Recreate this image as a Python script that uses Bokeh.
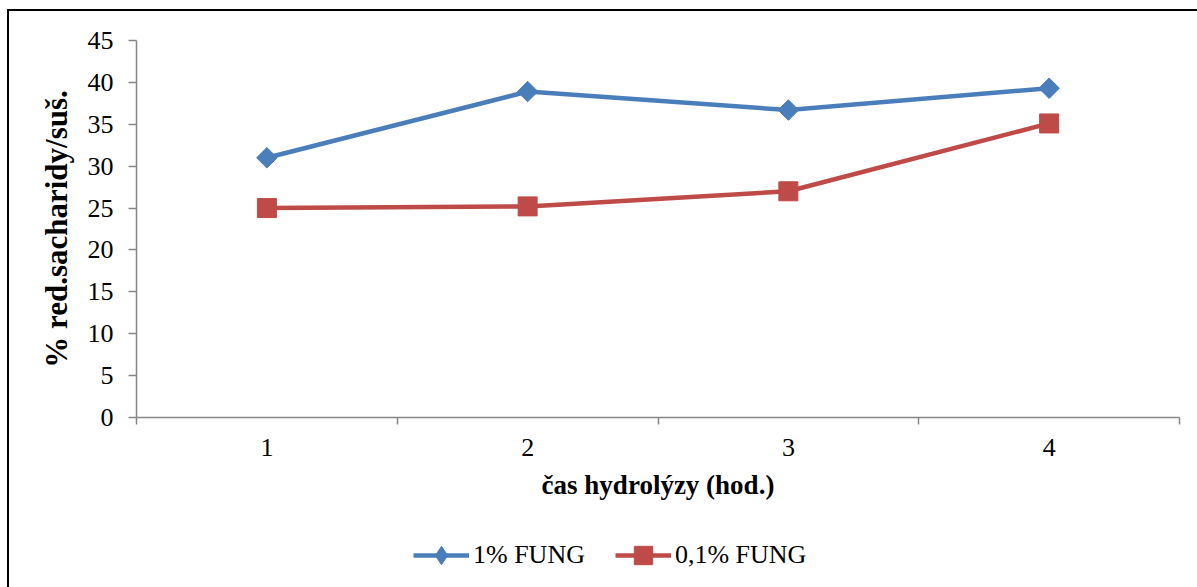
from bokeh.plotting import figure
from bokeh.layouts import column
from bokeh.models import (Range1d, FixedTicker, Legend, LegendItem)
from bokeh.embed import file_html
from bokeh.resources import INLINE
import math

# hydrolysis time (hours) and reducing-sugar yield per dry matter (%)
hours = [1, 2, 3, 4]
fung_1 = [31.0, 38.9, 36.7, 39.3]
fung_01 = [25.0, 25.2, 27.0, 35.1]
y_ticks = [0, 5, 10, 15, 20, 25, 30, 35, 40, 45]
series_names = ["1% FUNG", "0,1% FUNG"]

BLUE = "#4A7EBB"
RED = "#BE4B48"
AXIS = "#868686"
FONT = "Liberation Serif"

p = figure(width=1188, height=520, output_backend="svg", toolbar_location=None,
           x_range=Range1d(0.5, 4.5), y_range=Range1d(0, 45),
           min_border_left=127, min_border_right=18, min_border_top=29,
           min_border_bottom=114)
p.outline_line_color = None
p.grid.visible = False
p.background_fill_color = "white"
p.border_fill_color = "white"

# x axis: labels at category centres, tick marks between categories
xa = p.xaxis[0]
xa.ticker = FixedTicker(ticks=hours, minor_ticks=[0.5, 1.5, 2.5, 3.5, 4.5])
xa.major_tick_line_color = None
xa.major_tick_out = 0
xa.major_tick_in = 0
xa.minor_tick_line_color = AXIS
xa.minor_tick_line_width = 1.5
xa.minor_tick_out = 7
xa.minor_tick_in = 0
xa.axis_line_color = AXIS
xa.axis_line_width = 1.5
xa.major_label_text_font = FONT
xa.major_label_text_font_size = "26px"
xa.major_label_text_color = "black"
xa.major_label_standoff = 14
xa.axis_label = "čas hydrolýzy (hod.)"
xa.axis_label_text_font = FONT
xa.axis_label_text_font_style = "bold"
xa.axis_label_text_font_size = "27px"
xa.axis_label_text_color = "black"
xa.axis_label_standoff = 11

ya = p.yaxis[0]
ya.ticker = FixedTicker(ticks=y_ticks, minor_ticks=[])
ya.major_tick_line_color = AXIS
ya.major_tick_line_width = 1.5
ya.major_tick_out = 8
ya.major_tick_in = 0
ya.minor_tick_line_color = None
ya.axis_line_color = AXIS
ya.axis_line_width = 1.5
ya.major_label_text_font = FONT
ya.major_label_text_font_size = "26px"
ya.major_label_text_color = "black"
ya.major_label_standoff = 15
ya.axis_label = "% red.sacharidy/suš."
ya.axis_label_text_font = FONT
ya.axis_label_text_font_style = "bold"
ya.axis_label_text_font_size = "31px"
ya.axis_label_text_color = "black"
ya.axis_label_standoff = 11

p.line(hours, fung_1, line_color=BLUE, line_width=4.5)
p.scatter(hours, fung_1, marker="square", angle=math.pi / 4, size=14.5,
          fill_color=BLUE, line_color=BLUE)
p.line(hours, fung_01, line_color=RED, line_width=4.5)
p.scatter(hours, fung_01, marker="square", size=19,
          fill_color=RED, line_color=RED)

# legend strip underneath the chart; its swatch renderers sit outside the
# visible range so that only the legend entries show
lg = figure(width=1188, height=56, output_backend="svg", toolbar_location=None,
            x_range=Range1d(0, 1), y_range=Range1d(0, 1),
            x_axis_location=None, y_axis_location=None,
            min_border_left=0, min_border_right=0, min_border_top=0,
            min_border_bottom=0)
lg.outline_line_color = None
lg.grid.visible = False
lg.border_fill_color = "white"
off = [5, 6]
s1 = lg.line(off, off, line_color=BLUE, line_width=4.5)
k1 = lg.scatter(off, off, marker="diamond", size=14.5,
                fill_color=BLUE, line_color=BLUE)
s2 = lg.line(off, off, line_color=RED, line_width=4.5)
k2 = lg.scatter(off, off, marker="square", size=19,
                fill_color=RED, line_color=RED)

legend = Legend(items=[LegendItem(label=series_names[0], renderers=[s1, k1], index=0),
                       LegendItem(label=series_names[1], renderers=[s2, k2], index=0)],
                orientation="horizontal", location=(277, 9),
                glyph_width=56, glyph_height=46, label_standoff=4, spacing=30,
                padding=0, margin=0, border_line_color=None,
                background_fill_alpha=0,
                label_text_font=FONT, label_text_font_size="26px",
                label_text_color="black")
lg.add_layout(legend, "center")

page = column(p, lg, spacing=0)
page.margin = (9, 0, 0, 7)
page.styles = {"border-left": "2px solid #000000", "border-top": "2px solid #000000"}

open("out.html", "w").write(file_html(page, INLINE))
